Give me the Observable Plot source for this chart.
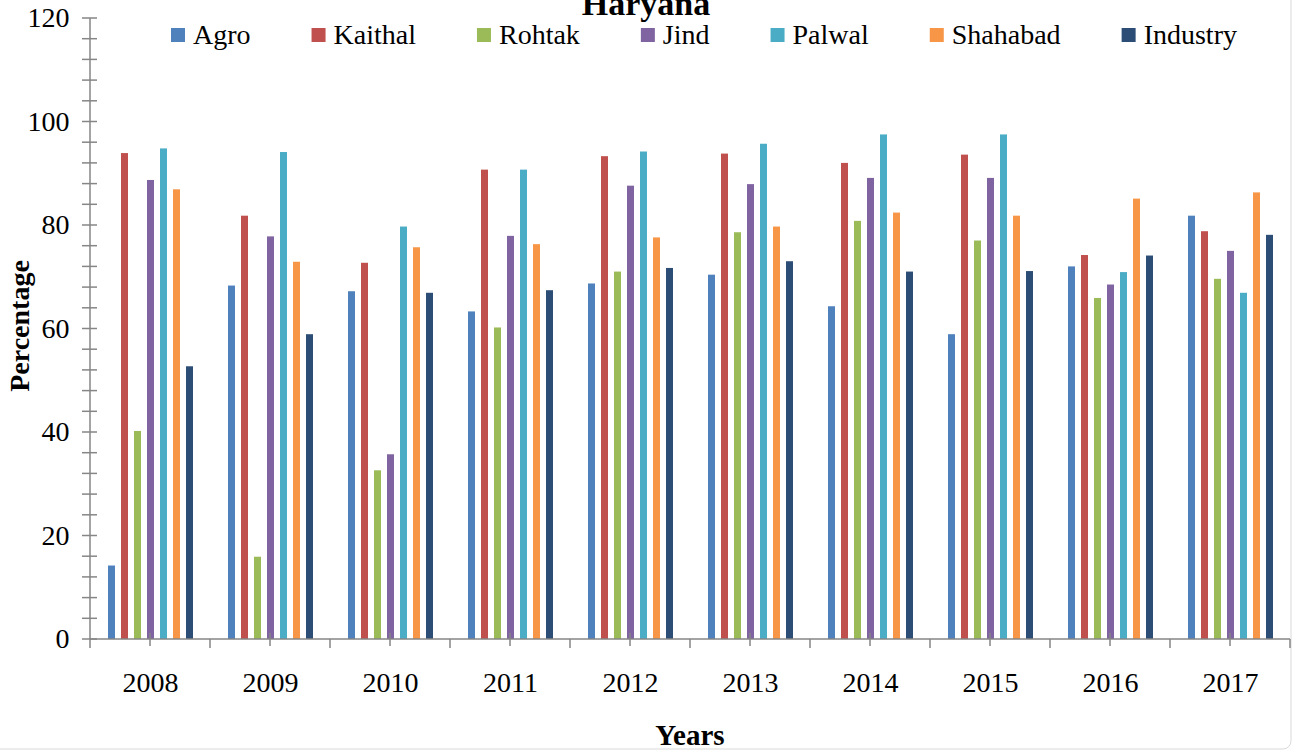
<!DOCTYPE html>
<html>
<head>
<meta charset="utf-8">
<script src="https://cdn.jsdelivr.net/npm/d3@7"></script>
<script src="https://cdn.jsdelivr.net/npm/@observablehq/plot@0.6"></script>
<style>
  html, body { margin: 0; padding: 0; background: #ffffff; }
  #chart svg { display: block; }
</style>
</head>
<body>
<div id="chart"></div>
<script>
const title = "Haryana";
const yLabel = "Percentage";
const xLabel = "Years";
const years = [2008, 2009, 2010, 2011, 2012, 2013, 2014, 2015, 2016, 2017];
const series = ["Agro", "Kaithal", "Rohtak", "Jind", "Palwal", "Shahabad", "Industry"];
const colors = ["#4F81BD", "#C0504D", "#9BBB59", "#8064A2", "#4BACC6", "#F79646", "#2C4D75"];
const yTicks = [0, 20, 40, 60, 80, 100, 120];

const agro     = [14.2, 68.3, 67.2, 63.3, 68.7, 70.4, 64.3, 58.9, 72.0, 81.8];
const kaithal  = [93.9, 81.8, 72.7, 90.7, 93.3, 93.8, 92.0, 93.6, 74.2, 78.8];
const rohtak   = [40.2, 15.9, 32.6, 60.2, 71.0, 78.6, 80.8, 77.0, 65.9, 69.6];
const jind     = [88.7, 77.8, 35.7, 77.9, 87.6, 87.9, 89.1, 89.1, 68.5, 75.0];
const palwal   = [94.8, 94.1, 79.7, 90.7, 94.2, 95.7, 97.5, 97.5, 70.9, 66.9];
const shahabad = [86.9, 72.9, 75.7, 76.3, 77.6, 79.7, 82.4, 81.8, 85.1, 86.3];
const industry = [52.7, 58.9, 66.9, 67.4, 71.7, 73.0, 71.0, 71.1, 74.1, 78.1];

const seriesValues = [agro, kaithal, rohtak, jind, palwal, shahabad, industry];
const data = years.flatMap((yr, i) =>
  series.map((s, j) => ({year: yr, series: s, value: seriesValues[j][i]}))
);

const FONT = "'Liberation Serif', 'Times New Roman', serif";
const W = 1292, H = 751;

const chart = Plot.plot({
  width: W,
  height: H,
  marginLeft: 90,
  marginRight: 2,
  marginTop: 18,
  marginBottom: 112,
  style: {fontFamily: FONT, fontSize: "28px", background: "#ffffff", color: "#000000", overflow: "visible"},
  fx: {domain: years, padding: 0, axis: "bottom", tickSize: 0, tickPadding: 33, label: null, tickFormat: d => `${d}`},
  x: {domain: series, axis: null, paddingInner: 0.48, paddingOuter: 1.2},
  y: {domain: [0, 120], ticks: yTicks, tickSize: 0, tickPadding: 21, label: null},
  color: {domain: series, range: colors},
  marks: [
    Plot.barY(data, {fx: "year", x: "series", y: "value", fill: "series"})
  ]
});

document.getElementById("chart").appendChild(chart);

const svg = d3.select(chart);
const yS = chart.scale("y");
const fxS = chart.scale("fx");
const bw = fxS.bandwidth;
const x0 = 90, x1 = W - 2;
const yBase = yS.apply(0), yTop = yS.apply(120);
const AX = "#868686";

const deco = svg.append("g").attr("aria-label", "decorations").attr("text-anchor", "start");

// chart border
deco.append("rect")
  .attr("x", -8).attr("y", -10).attr("width", W - 1 + 8).attr("height", H - 2 + 10)
  .attr("rx", 8).attr("fill", "none").attr("stroke", "#d9d9d9").attr("stroke-width", 1);

// y axis line and crossing ticks every 4
deco.append("line").attr("x1", x0).attr("x2", x0).attr("y1", yBase).attr("y2", yTop)
  .attr("stroke", AX).attr("stroke-width", 1.5);
deco.selectAll("line.yt").data(d3.range(0, 121, 4)).join("line")
  .attr("class", "yt")
  .attr("x1", x0 - 8).attr("x2", x0 + 7)
  .attr("y1", d => yS.apply(d)).attr("y2", d => yS.apply(d))
  .attr("stroke", AX).attr("stroke-width", 1.5);

// x axis line
deco.append("line").attr("x1", x0).attr("x2", x1).attr("y1", yBase).attr("y2", yBase)
  .attr("stroke", AX).attr("stroke-width", 1.5);
// center ticks
deco.selectAll("line.xc").data(years).join("line")
  .attr("class", "xc")
  .attr("x1", d => fxS.apply(d) + bw / 2).attr("x2", d => fxS.apply(d) + bw / 2)
  .attr("y1", yBase - 6).attr("y2", yBase + 7)
  .attr("stroke", AX).attr("stroke-width", 1.5);
// boundary ticks
deco.selectAll("line.xb").data(years.concat(["end"])).join("line")
  .attr("class", "xb")
  .attr("x1", d => d === "end" ? x1 : fxS.apply(d)).attr("x2", d => d === "end" ? x1 : fxS.apply(d))
  .attr("y1", yBase).attr("y2", yBase + 9)
  .attr("stroke", AX).attr("stroke-width", 1.5);

// title (partially clipped at top like the reference)
deco.append("text").text(title)
  .attr("x", 646).attr("y", 15).attr("text-anchor", "middle")
  .attr("font-family", FONT).attr("font-weight", "bold").attr("font-size", 34).attr("fill", "#000");

// axis titles
deco.append("text").text(yLabel)
  .attr("transform", "translate(29,326) rotate(-90)").attr("text-anchor", "middle")
  .attr("font-family", FONT).attr("font-weight", "bold").attr("font-size", 28).attr("fill", "#000");
deco.append("text").text(xLabel)
  .attr("x", (x0 + x1) / 2).attr("y", 745).attr("text-anchor", "middle")
  .attr("font-family", FONT).attr("font-weight", "bold").attr("font-size", 29).attr("fill", "#000");

// legend
const leg = deco.append("g").attr("aria-label", "legend");
let lx = 171;
series.forEach((s, i) => {
  leg.append("rect").attr("x", lx).attr("y", 28).attr("width", 14).attr("height", 14).attr("fill", colors[i]);
  const t = leg.append("text").text(s).attr("x", lx + 22).attr("y", 44).attr("text-anchor", "start")
    .attr("font-family", FONT).attr("font-size", 28).attr("fill", "#000");
  const tw = t.node().getComputedTextLength();
  lx = lx + 22 + tw + 61;
});
</script>
</body>
</html>
